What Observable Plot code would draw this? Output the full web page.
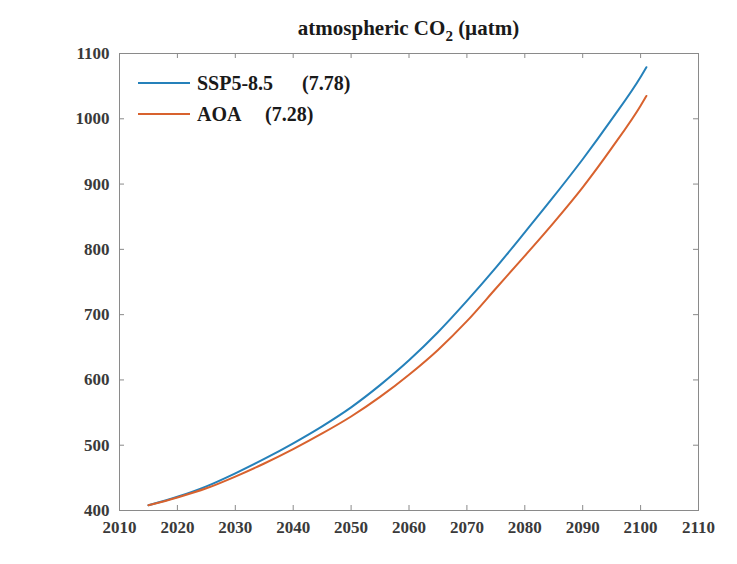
<!DOCTYPE html>
<html><head><meta charset="utf-8">
<script src="https://cdn.jsdelivr.net/npm/d3@7"></script>
<script src="https://cdn.jsdelivr.net/npm/@observablehq/plot@0.6"></script>
<style>body{margin:0;background:#fff} svg{display:block}</style>
</head><body><div id="chart"></div>
<script>
// Data (annual means, µatm)
const years  = [2015, 2020, 2025, 2030, 2035, 2040, 2045, 2050, 2055, 2060, 2065, 2070, 2075, 2080, 2085, 2090, 2095, 2100, 2101];
const ssp585 = [408, 421, 437, 457, 479, 503, 529, 558, 592, 630, 673, 721, 772, 826, 881, 938, 999, 1064, 1079];
const aoa    = [408, 420, 434, 452, 472, 494, 518, 544, 574, 608, 646, 690, 740, 790, 841, 895, 955, 1020, 1035];
const seriesNames  = ["SSP5-8.5", "AOA"];
const seriesScores = ["(7.78)", "(7.28)"];
const seriesColors = ["#2581ba", "#d8622e"];
const xTicks = [2010, 2020, 2030, 2040, 2050, 2060, 2070, 2080, 2090, 2100, 2110];
const yTicks = [400, 500, 600, 700, 800, 900, 1000, 1100];
const titleMain = "atmospheric CO";
const titleSub = "2";
const titleUnit = " (\u00b5atm)";

const rows = [];
years.forEach((yr, i) => {
  rows.push({year: yr, value: ssp585[i], series: seriesNames[0]});
});
years.forEach((yr, i) => {
  rows.push({year: yr, value: aoa[i], series: seriesNames[1]});
});

const W = 737, H = 564, mL = 119, mR = 39, mT = 53, mB = 54;
const innerW = W - mL - mR, innerH = H - mT - mB;
const tk = 5;
const axisColor = "#8a8a8a";
const font = "'Liberation Serif', 'DejaVu Serif', serif";

const svg = Plot.plot({
  width: W, height: H,
  marginLeft: mL, marginRight: mR, marginTop: mT, marginBottom: mB,
  style: {fontFamily: font, background: "#fff", overflow: "visible"},
  x: {domain: [2010, 2110]},
  y: {domain: [400, 1100]},
  color: {domain: seriesNames, range: seriesColors},
  marks: [
    Plot.frame({stroke: axisColor, strokeWidth: 1}),
    Plot.tickX(xTicks, {x: d => d, insetTop: innerH - tk, stroke: axisColor}),
    Plot.tickX(xTicks, {x: d => d, insetBottom: innerH - tk, stroke: axisColor}),
    Plot.tickY(yTicks, {y: d => d, insetRight: innerW - tk, stroke: axisColor}),
    Plot.tickY(yTicks, {y: d => d, insetLeft: innerW - tk, stroke: axisColor}),
    Plot.axisX({ticks: xTicks, tickSize: 0, tickPadding: 10, tickFormat: d => String(d),
      fontSize: 17, fontWeight: "bold", fill: "#3a3a3a", label: null}),
    Plot.axisY({ticks: yTicks, tickSize: 0, tickPadding: 10, tickFormat: d => String(d),
      fontSize: 17, fontWeight: "bold", fill: "#3a3a3a", label: null}),
    Plot.line(rows, {x: "year", y: "value", stroke: "series", z: "series",
      curve: "monotone-x", strokeWidth: 2})
  ]
});

const s = d3.select(svg);
// Title with subscript
const t = s.append("text")
  .attr("x", mL + innerW / 2).attr("y", 35)
  .attr("text-anchor", "middle")
  .attr("font-family", font).attr("font-weight", "bold")
  .attr("font-size", 21).attr("fill", "#1a1a1a");
t.append("tspan").text(titleMain);
t.append("tspan").attr("font-size", 15).attr("dy", 6).text(titleSub);
t.append("tspan").attr("dy", -6).text(titleUnit);

// Legend
const lg = s.append("g");
seriesNames.forEach((name, i) => {
  const y = 83 + i * 31;
  lg.append("line").attr("x1", 138).attr("x2", 190).attr("y1", y).attr("y2", y)
    .attr("stroke", seriesColors[i]).attr("stroke-width", 2);
  lg.append("text").attr("x", 197).attr("y", y).attr("dy", "0.35em")
    .attr("text-anchor", "start")
    .attr("font-family", font).attr("font-weight", "bold").attr("font-size", 20)
    .attr("fill", "#1a1a1a").text(name);
  lg.append("text").attr("x", i === 0 ? 302 : 265).attr("y", y).attr("dy", "0.35em")
    .attr("text-anchor", "start")
    .attr("font-family", font).attr("font-weight", "bold").attr("font-size", 20)
    .attr("fill", "#1a1a1a").text(seriesScores[i]);
});

document.getElementById("chart").appendChild(svg);
</script>
</body></html>
